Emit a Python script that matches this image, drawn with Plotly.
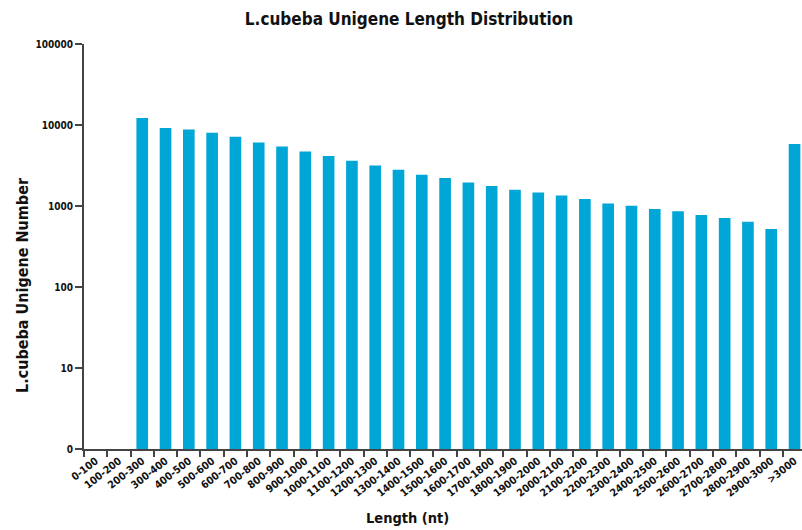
import plotly.graph_objects as go

categories = ["0-100", "100-200", "200-300", "300-400", "400-500", "500-600", "600-700",
              "700-800", "800-900", "900-1000", "1000-1100", "1100-1200", "1200-1300",
              "1300-1400", "1400-1500", "1500-1600", "1600-1700", "1700-1800", "1800-1900",
              "1900-2000", "2000-2100", "2100-2200", "2200-2300", "2300-2400", "2400-2500",
              "2500-2600", "2600-2700", "2700-2800", "2800-2900", "2900-3000", ">3000"]
counts = [0, 0, 12200, 9200, 8800, 8040, 7150, 6080, 5430, 4710, 4140, 3620, 3170,
          2800, 2430, 2210, 1950, 1760, 1590, 1470, 1350, 1220, 1075, 1008, 918,
          860, 774, 711, 640, 520, 5820]
tick_vals = [1, 10, 100, 1000, 10000, 100000]
tick_text = ["0", "10", "100", "1000", "10000", "100000"]

FONT = "DejaVu Sans Condensed, Liberation Sans Narrow, Liberation Sans, Arial"
AXIS = "#444444"

fig = go.Figure(go.Bar(
    x=categories,
    y=[c if c > 0 else None for c in counts],
    marker=dict(color="#00A6D6", line=dict(width=0)),
))

fig.update_layout(
    width=802, height=530,
    margin=dict(l=84, r=0, t=44, b=81, autoexpand=False),
    paper_bgcolor="white", plot_bgcolor="white",
    bargap=0.5,
    showlegend=False,
    title=dict(text="<b>L.cubeba Unigene Length Distribution</b>",
               x=0.51, xanchor="center", y=0.965, yanchor="middle",
               font=dict(family=FONT, size=17, color="#111111")),
    font=dict(family=FONT, color="#111111"),
    annotations=[
        dict(text="<b>L.cubeba Unigene Number</b>", textangle=-90,
             xref="paper", yref="paper", x=-0.085, y=0.405,
             xanchor="center", yanchor="middle", showarrow=False,
             font=dict(family=FONT, size=16, color="#111111")),
        dict(text="<b>Length (nt)</b>",
             xref="paper", yref="paper", x=0.45, y=-0.17,
             xanchor="center", yanchor="middle", showarrow=False,
             font=dict(family=FONT, size=14.5, color="#111111")),
    ],
)

fig.update_xaxes(
    type="category",
    range=[-0.5, 30.32],
    tickson="boundaries",
    ticks="outside", ticklen=6, tickwidth=1.5, tickcolor=AXIS,
    showline=True, linecolor=AXIS, linewidth=2,
    showgrid=False, zeroline=False,
    tickangle=-38,
    automargin=False,
    tickfont=dict(family=FONT, size=10.5, color="#111111"),
    tickprefix="<b>", ticksuffix="</b>",
)

fig.update_yaxes(
    type="log",
    range=[0, 5],
    tickvals=tick_vals, ticktext=["<b>%s</b>" % t for t in tick_text],
    ticks="outside", ticklen=7, tickwidth=1.5, tickcolor=AXIS,
    showline=True, linecolor=AXIS, linewidth=2,
    showgrid=False, zeroline=False,
    automargin=False,
    tickfont=dict(family=FONT, size=10, color="#111111"),
)

fig.write_html("out.html")
